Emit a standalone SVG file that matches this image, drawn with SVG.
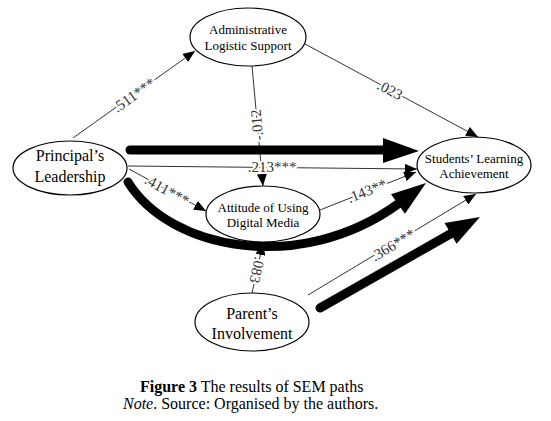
<svg xmlns="http://www.w3.org/2000/svg" width="551" height="421" viewBox="0 0 551 421">
<style>
.node ellipse{fill:#fff;stroke:#000;stroke-width:1.2}
.t{font-family:"Liberation Serif","Times New Roman",serif;text-anchor:middle;fill:#000}
.s{font-size:13px}
.b{font-size:16px}
.thin{stroke:#333;stroke-width:1;fill:none}
.thick{stroke:#000;stroke-width:9;fill:none;stroke-linecap:round}
.head{fill:#000}
.lab{font-family:"Liberation Serif","Times New Roman",serif;font-size:15px;fill:#333;text-anchor:middle;dominant-baseline:central;stroke:#fff;stroke-width:4;paint-order:stroke}
.cap{font-family:"Liberation Serif","Times New Roman",serif;font-size:16px;fill:#000}
</style>
<defs>
<marker id="ah" markerUnits="userSpaceOnUse" markerWidth="12" markerHeight="10" refX="12" refY="5" orient="auto">
<path d="M0,0 L12,5 L0,10 z" fill="#000"/>
</marker>
</defs>
<g id="connectors">
<line class="thin" x1="73" y1="138" x2="195" y2="51" marker-end="url(#ah)"/>
<line class="thin" x1="305" y1="44" x2="478" y2="137" marker-end="url(#ah)"/>
<line class="thin" x1="252" y1="66" x2="263" y2="186" marker-end="url(#ah)"/>
<line class="thin" x1="128" y1="166" x2="417" y2="169" marker-end="url(#ah)"/>
<line class="thin" x1="129" y1="169" x2="206" y2="211" marker-end="url(#ah)"/>
<line class="thin" x1="320" y1="210" x2="416" y2="172" marker-end="url(#ah)"/>
<line class="thin" x1="252" y1="293" x2="263" y2="243" marker-end="url(#ah)"/>
<line class="thin" x1="308" y1="295" x2="476" y2="194" marker-end="url(#ah)"/>
<line class="thick" x1="130" y1="150" x2="386" y2="150"/>
<polygon class="head" points="383,138 419,151 383,163"/>
<path class="thick" d="M128,182 C170,250 300,275 398,204"/>
<polygon class="head" points="391,194.3 426,183 405,213.7"/>
<line class="thick" x1="320" y1="308" x2="452" y2="233"/>
<polygon class="head" points="444.6,223 480,217 456.6,243.8"/>
<text class="lab" transform="translate(134,95) rotate(-35.5)">.511***</text>
<text class="lab" transform="translate(390,90) rotate(28.3)">.023</text>
<text class="lab" transform="translate(257,125) rotate(-95.2)">-.012</text>
<text class="lab" x="272" y="167">.213***</text>
<text class="lab" transform="translate(167,190) rotate(28.9)">.411***</text>
<text class="lab" transform="translate(367,191) rotate(-21.6)">.143**</text>
<text class="lab" transform="translate(257,270) rotate(102.4)">.083</text>
<text class="lab" transform="translate(393,245) rotate(-31)">.366***</text>
</g>
<g id="admin" class="node">
<ellipse cx="248" cy="37" rx="58" ry="29"/>
<text class="t s" x="248" y="34">Administrative</text>
<text class="t s" x="248" y="50">Logistic Support</text>
</g>
<g id="principal" class="node">
<ellipse cx="70" cy="168" rx="57" ry="27"/>
<text class="t b" x="70" y="161">Principal’s</text>
<text class="t b" x="70" y="182">Leadership</text>
</g>
<g id="students" class="node">
<ellipse cx="474" cy="165" rx="57" ry="28"/>
<text class="t s" x="474" y="163">Students’ Learning</text>
<text class="t s" x="474" y="178">Achievement</text>
</g>
<g id="attitude" class="node">
<ellipse cx="263" cy="214" rx="57" ry="28"/>
<text class="t s" x="263" y="212">Attitude of Using</text>
<text class="t s" x="263" y="227">Digital Media</text>
</g>
<g id="parent" class="node">
<ellipse cx="252" cy="322" rx="57" ry="29"/>
<text class="t b" x="252" y="319">Parent’s</text>
<text class="t b" x="252" y="339">Involvement</text>
</g>
<g id="caption">
<text class="cap" x="140" y="392"><tspan font-weight="bold">Figure 3</tspan> The results of SEM paths</text>
<text class="cap" x="123" y="409"><tspan font-style="italic">Note</tspan>. Source: Organised by the authors.</text>
</g>
</svg>
